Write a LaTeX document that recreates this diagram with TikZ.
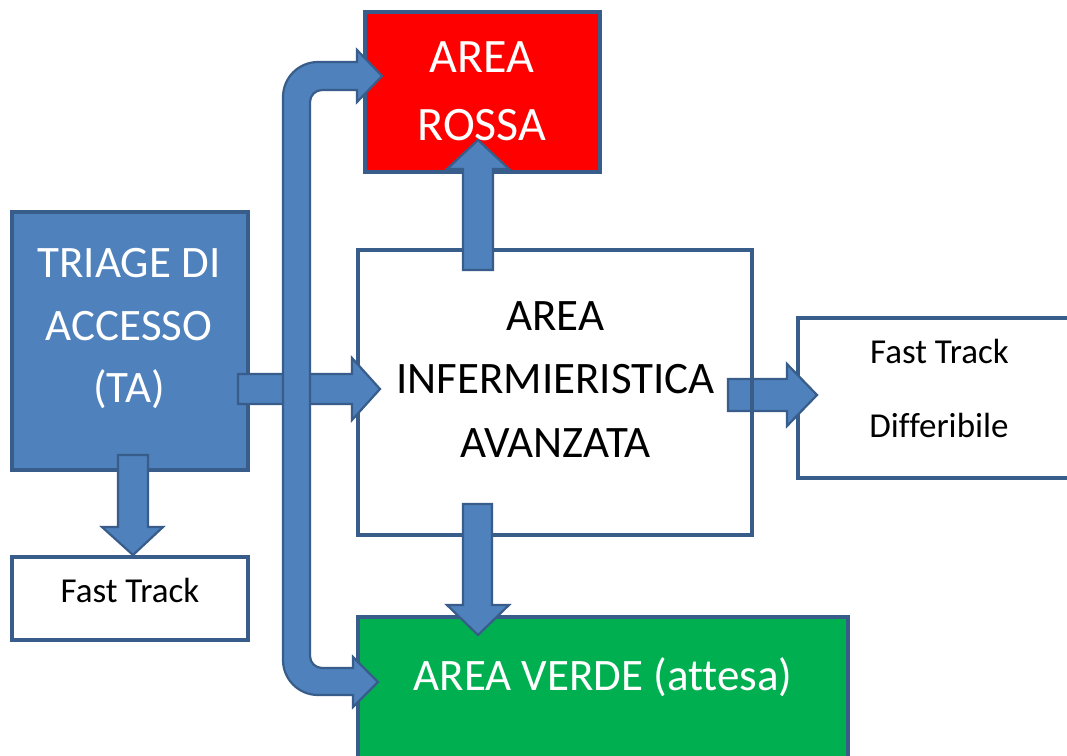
\documentclass[tikz,border=0pt]{standalone}
\usepackage{fontspec}
\setmainfont[Ligatures=NoCommon]{Carlito}
\definecolor{bfill}{HTML}{4F81BD}
\definecolor{bline}{HTML}{385D8A}
\definecolor{rfill}{HTML}{FF0000}
\definecolor{gfill}{HTML}{00B050}
\tikzset{
  box/.style={draw=bline, line width=3.5pt, inner sep=0pt, rectangle},
  arr/.style={fill=bfill, draw=bline, line width=2.2pt, line join=miter},
  bigw/.style={text=white, font=\fontsize{45}{52}\selectfont, inner sep=0pt, anchor=base},
  bigk/.style={text=black, font=\fontsize{45}{52}\selectfont, inner sep=0pt, anchor=base},
  redw/.style={text=white, font=\fontsize{48}{55}\selectfont, inner sep=0pt, anchor=base},
  smallk/.style={text=black, font=\fontsize{35}{40}\selectfont, inner sep=0pt, anchor=base}
}
\begin{document}
\begin{tikzpicture}[x=1pt,y=1pt]
\path[use as bounding box] (0,0) rectangle (1067,-755);
\fill[white] (0,0) rectangle (1067,-755);
\clip (0,0) rectangle (1067,-755);

% boxes
\node[box, fill=bfill, minimum width=236pt, minimum height=258pt] (ta) at (130,-341) {};
\node[box, fill=white, minimum width=236pt, minimum height=83pt] (ft) at (130,-598.5) {};
\node[box, fill=rfill, minimum width=235pt, minimum height=160pt] (rossa) at (482.5,-92) {};
\node[box, fill=white, minimum width=282pt, minimum height=160pt] (diff) at (939,-398) {};
\node[box, fill=gfill, minimum width=490pt, minimum height=160pt] (verde) at (603,-697) {};

% arrow from central area to Fast Track Differibile (under the box border)
\draw[arr] (728,-379) -- (787,-379) -- (787,-364) -- (817,-395) -- (787,-426) -- (787,-411) -- (728,-411) -- cycle;

\node[box, fill=none, minimum width=394pt, minimum height=285pt] (aia) at (555,-392.5) {};

% texts
\node[bigw] (ta1) at (129,-277) {TRIAGE DI};
\node[bigw] (ta2) at (129,-340) {ACCESSO};
\node[bigw] (ta3) at (129,-402) {(TA)};
\node[redw] (r1) at (482,-72) {AREA};
\node[redw] (r2) at (482,-140) {ROSSA};
\node[bigk] (a1) at (555.5,-330) {AREA};
\node[bigk] (a2) at (555.5,-393) {INFERMIERISTICA};
\node[bigk] (a3) at (555.5,-457) {AVANZATA};
\node[bigw] (v1) at (603,-690) {AREA VERDE (attesa)};
\node[smallk] (f1) at (130,-602) {Fast Track};
\node[smallk] (d1) at (939.5,-363) {Fast Track};
\node[smallk] (d2) at (939,-437) {Differibile};

% TA -> Fast Track
\draw[arr] (118,-455) -- (148,-455) -- (148,-527) -- (163,-527) -- (133,-555) -- (102,-527) -- (118,-527) -- cycle;
% central -> rossa
\draw[arr] (463,-270) -- (463,-169) -- (447,-169) -- (478,-140) -- (509,-169) -- (493,-169) -- (493,-270) -- cycle;
% central -> verde
\draw[arr] (463,-504) -- (492,-504) -- (492,-605) -- (509,-605) -- (478,-635) -- (447,-605) -- (463,-605) -- cycle;
% TA -> central
\draw[arr] (238,-374) -- (352,-374) -- (352,-358) -- (380,-389) -- (352,-420) -- (352,-404) -- (238,-404) -- cycle;

% bent arrow: rossa <- | -> verde
\draw[arr] (357,-62) -- (357,-50) -- (382,-76) -- (357,-102) -- (357,-90) -- (322,-90)
  arc (90:180:12) -- (310,-656) arc (180:270:12) -- (353,-668) -- (353,-657)
  -- (378,-682) -- (353,-707) -- (353,-695) -- (318,-695) arc (270:180:35)
  -- (283,-97) arc (180:90:35) -- cycle;
\end{tikzpicture}
\end{document}
